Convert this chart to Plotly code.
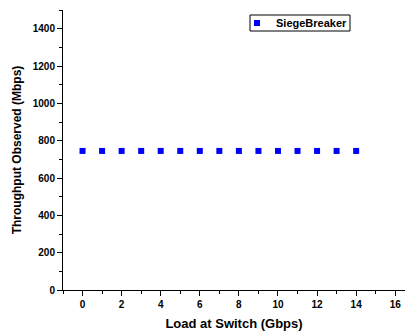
import plotly.graph_objects as go

# Offered load at the switch (Gbps) and the throughput measured for each
load_gbps = [0, 1, 2, 3, 4, 5, 6, 7, 8, 9, 10, 11, 12, 13, 14]
throughput_mbps = [745, 745, 745, 745, 745, 745, 745, 745, 745, 745, 745, 745, 745, 745, 745]
series_name = "SiegeBreaker"

font_family = "Arial, Liberation Sans, sans-serif"
marker_color = "#0000ff"

W, H = 406, 336
L, R, T, B = 63, 1, 10, 46
PW, PH = W - L - R, H - T - B


def px(x):
    return (x - L) / PW


def py(y):
    return (H - B - y) / PH


fig = go.Figure()
fig.add_trace(go.Scatter(
    x=load_gbps, y=throughput_mbps, mode="markers", name=series_name,
    marker=dict(symbol="square", size=6, color=marker_color),
    showlegend=False,
))

axis_common = dict(
    showline=True, linecolor="black", linewidth=1, mirror=False,
    ticks="outside", ticklen=5, tickcolor="black", tickwidth=1,
    showgrid=False, zeroline=False,
    tickfont=dict(family=font_family, size=10, color="black", weight="bold"),
)

# Compact boxed legend in the upper right
legend_shapes = [
    dict(type="rect", xref="paper", yref="paper",
         x0=px(250), x1=px(350), y0=py(31), y1=py(15),
         line=dict(color="black", width=1), fillcolor="white", layer="above"),
    dict(type="rect", xref="paper", yref="paper",
         x0=px(254), x1=px(260), y0=py(26), y1=py(20),
         line=dict(width=0), fillcolor=marker_color, layer="above"),
]

fig.update_layout(
    width=W, height=H,
    margin=dict(l=L, r=R, t=T, b=B),
    paper_bgcolor="white", plot_bgcolor="white",
    showlegend=False,
    shapes=legend_shapes,
    annotations=[dict(
        text=series_name, xref="paper", yref="paper",
        x=px(274), y=py(23), xanchor="left", yanchor="middle", showarrow=False,
        font=dict(family=font_family, size=11, color="black", weight="bold"),
    )],
    xaxis=dict(
        range=[-1, 16.5], tickmode="linear", tick0=0, dtick=2,
        minor=dict(ticks="outside", dtick=1, ticklen=3, tickcolor="black"),
        title=dict(text="Load at Switch (Gbps)", standoff=9,
                   font=dict(family=font_family, size=13, color="black", weight="bold")),
        **axis_common,
    ),
    yaxis=dict(
        range=[0, 1500], tickmode="linear", tick0=0, dtick=200,
        minor=dict(ticks="outside", dtick=100, ticklen=3, tickcolor="black"),
        title=dict(text="Throughput Observed (Mbps)", standoff=8,
                   font=dict(family=font_family, size=12, color="black", weight="bold")),
        **axis_common,
    ),
)

fig.write_html("out.html")
